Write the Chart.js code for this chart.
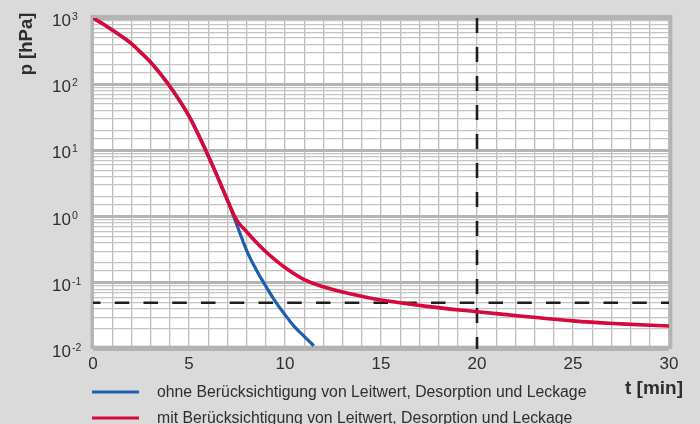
<!DOCTYPE html>
<html>
<head>
<meta charset="utf-8">
<script src="https://cdn.jsdelivr.net/npm/chart.js@4.4.1/dist/chart.umd.min.js"></script>
<style>
  html, body { margin: 0; padding: 0; background: #dadada; }
  #wrap { width: 700px; height: 424px; }
  canvas { display: block; }
</style>
</head>
<body>
<div id="wrap"><canvas id="chart" width="700" height="424"></canvas></div>
<script>
// Pump-down curve: pressure over time, with and without conductance, desorption and leakage
const timeWith = [0, 0.5, 1, 1.5, 2, 2.5, 3, 3.5, 4, 4.5, 5, 5.5, 6, 6.5, 7, 7.5, 8, 8.5, 9, 9.5, 10, 11, 12, 13, 14, 15, 17.5, 20, 22.5, 25, 27.5, 30];
const pressureWith = [1000, 820, 660, 525, 410, 300, 215, 145, 93, 57, 33, 17, 8.3, 3.9, 1.78, 0.87, 0.59, 0.41, 0.295, 0.221, 0.17, 0.112, 0.087, 0.0725, 0.0624, 0.055, 0.0437, 0.0366, 0.031, 0.0266, 0.024, 0.0222];

const timeWithout = [0, 0.5, 1, 1.5, 2, 2.5, 3, 3.5, 4, 4.5, 5, 5.5, 6, 6.5, 7, 7.5, 8, 8.5, 9, 9.5, 10, 10.5, 11, 11.5];
const pressureWithout = [1000, 820, 660, 525, 410, 300, 215, 145, 93, 57, 33, 17, 8.3, 3.9, 1.78, 0.74, 0.31, 0.158, 0.089, 0.052, 0.033, 0.0216, 0.0155, 0.0112];

const seriesLabels = [
  'ohne Berücksichtigung von Leitwert, Desorption und Leckage',
  'mit Berücksichtigung von Leitwert, Desorption und Leckage'
];
const seriesColors = ['#1d5fae', '#d6093b'];

const timeRange = [0, 30];
const pressureRange = [0.01, 1000];
const decadeExponents = [3, 2, 1, 0, -1, -2];
const targetPressure = [0.05];
const markedTime = [20];
const axisTitles = { y: 'p [hPa]', x: 't [min]' };

const FONT = '"Liberation Sans", Arial, Helvetica, sans-serif';
const TEXT = '#2e2e2e';

const toPoints = (xs, ys) => xs.map((t, i) => ({ x: t, y: ys[i] }));
const isDecade = v => Math.abs(Math.log10(v) - Math.round(Math.log10(v))) < 1e-6;

const decorations = {
  id: 'decorations',
  beforeDraw(chart) {
    const { ctx, chartArea: a } = chart;
    ctx.save();
    ctx.fillStyle = '#dadada';
    ctx.fillRect(0, 0, chart.width, chart.height);
    ctx.fillStyle = '#ffffff';
    ctx.fillRect(a.left, a.top, a.right - a.left, a.bottom - a.top);
    ctx.restore();
  },
  beforeDatasetsDraw(chart) {
    const { ctx, chartArea: a } = chart;
    ctx.save();
    ctx.strokeStyle = '#b3b3b3';
    ctx.lineWidth = 3.3;
    ctx.strokeRect(a.left - 0.8, a.top - 1.4, a.right - a.left + 2.5, a.bottom - a.top - 0.3);
    ctx.restore();
  },
  afterDraw(chart) {
    const { ctx, scales } = chart;
    const yScale = scales.y;
    ctx.save();
    ctx.fillStyle = TEXT;

    // decade labels 10^n on the logarithmic axis
    decadeExponents.forEach(e => {
      const py = yScale.getPixelForValue(Math.pow(10, e));
      ctx.font = '17px ' + FONT;
      ctx.textAlign = 'left';
      ctx.textBaseline = 'alphabetic';
      ctx.fillText('10', 52, py + 8);
      const w = ctx.measureText('10').width;
      ctx.font = '10.5px ' + FONT;
      ctx.fillText(String(e), 52 + w + 1, py + 2);
    });

    // axis titles
    ctx.font = 'bold 18.5px ' + FONT;
    ctx.save();
    ctx.translate(32, 44);
    ctx.rotate(-Math.PI / 2);
    ctx.textAlign = 'center';
    ctx.textBaseline = 'alphabetic';
    ctx.fillText(axisTitles.y, 0, 0);
    ctx.restore();
    ctx.font = 'bold 19px ' + FONT;
    ctx.textAlign = 'right';
    ctx.textBaseline = 'alphabetic';
    ctx.fillText(axisTitles.x, 683, 394);

    // legend
    const rows = [392, 418];
    seriesLabels.forEach((label, i) => {
      ctx.strokeStyle = seriesColors[i];
      ctx.lineWidth = 3;
      ctx.beginPath();
      ctx.moveTo(92, rows[i]);
      ctx.lineTo(139, rows[i]);
      ctx.stroke();
      ctx.font = '15.8px ' + FONT;
      ctx.textAlign = 'left';
      ctx.textBaseline = 'middle';
      ctx.fillStyle = TEXT;
      ctx.fillText(label, 157, rows[i] + 0.5);
    });
    ctx.restore();
  }
};

new Chart(document.getElementById('chart'), {
  type: 'line',
  data: {
    datasets: [
      {
        label: seriesLabels[1],
        data: toPoints(timeWith, pressureWith),
        borderColor: seriesColors[1],
        borderWidth: 3.6,
        pointRadius: 0,
        tension: 0.4,
        order: 1
      },
      {
        label: seriesLabels[0],
        data: toPoints(timeWithout, pressureWithout),
        borderColor: seriesColors[0],
        borderWidth: 3.2,
        pointRadius: 0,
        tension: 0.4,
        order: 2
      },
      {
        label: 'p-limit',
        data: toPoints(timeRange, [targetPressure[0], targetPressure[0]]),
        borderColor: '#1e1e1e',
        borderWidth: 2.6,
        borderDash: [14.5, 14.25],
        borderDashOffset: 7,
        pointRadius: 0,
        order: 3
      },
      {
        label: 't-mark',
        data: toPoints([markedTime[0], markedTime[0]], [pressureRange[1], pressureRange[0]]),
        borderColor: '#1e1e1e',
        borderWidth: 2.6,
        borderDash: [15, 14],
        pointRadius: 0,
        order: 3
      }
    ]
  },
  options: {
    responsive: false,
    animation: false,
    devicePixelRatio: 1,
    layout: { padding: { left: 0, top: 18, right: 31, bottom: 0 } },
    plugins: { legend: { display: false }, tooltip: { enabled: false } },
    scales: {
      x: {
        type: 'linear',
        min: timeRange[0],
        max: timeRange[1],
        border: { display: false },
        grid: { color: '#bdbdbd', lineWidth: 1.3, drawTicks: false },
        ticks: {
          stepSize: 1,
          autoSkip: false,
          maxRotation: 0,
          padding: 5,
          color: TEXT,
          font: { family: FONT, size: 17 },
          callback: v => (v % 5 === 0 ? String(v) : '')
        },
        afterFit: s => { s.height = 75; }
      },
      y: {
        type: 'logarithmic',
        min: pressureRange[0],
        max: pressureRange[1],
        border: { display: false },
        grid: {
          drawTicks: false,
          color: ctx => (ctx.tick && isDecade(ctx.tick.value) ? '#b4b4b4' : '#c4c4c4'),
          lineWidth: ctx => (ctx.tick && isDecade(ctx.tick.value) ? 3 : 1.3)
        },
        ticks: { display: false },
        afterFit: s => { s.width = 93; }
      }
    }
  },
  plugins: [decorations]
});
</script>
</body>
</html>
